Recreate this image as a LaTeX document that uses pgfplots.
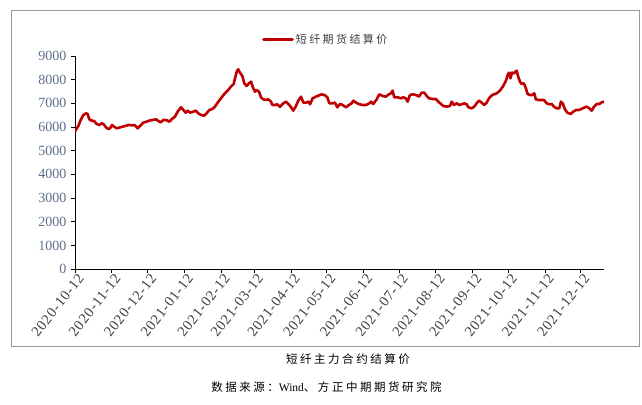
\documentclass[border=0pt]{standalone}
\usepackage{fontspec}
\setmainfont{Liberation Serif}
\newfontfamily\cjk[LetterSpace=22]{Noto Sans CJK SC}
\newfontfamily\xlabfont[LetterSpace=6]{Liberation Serif}
\usepackage{pgfplots}
\pgfplotsset{compat=1.18}
\definecolor{lred}{HTML}{C00000}
\definecolor{ylab}{HTML}{5F6F8A}
\definecolor{xlab}{HTML}{404040}
\begin{document}
\begin{tikzpicture}[x=1bp,y=1bp]
\path[use as bounding box] (0,0) rectangle (642,404);
\fill[white] (0,0) rectangle (642,404);
\draw[color=black!40, line width=0.9bp] (11,58) rectangle (639,394);
\begin{axis}[
  at={(75bp,134.8bp)}, anchor=south west,
  scale only axis, width=529bp, height=213.3bp,
  xmin=0, xmax=445.7, ymin=0, ymax=9000,
  axis x line=bottom, axis y line=left,
  axis line style={-, black, line width=0.8bp},
  tick align=outside, major tick length=4bp,
  tick style={black, line width=0.7bp},
  xtick={0,31,61,92,123,151,182,212,243,273,304,335,365,396,426},
  xticklabels={2020-10-12,2020-11-12,2020-12-12,2021-01-12,2021-02-12,2021-03-12,2021-04-12,2021-05-12,2021-06-12,2021-07-12,2021-08-12,2021-09-12,2021-10-12,2021-11-12,2021-12-12},
  ytick={0,1000,2000,3000,4000,5000,6000,7000,8000,9000},
  /pgf/number format/1000 sep={},
  /pgf/number format/assume math mode=true,
  x tick label style={rotate=52, anchor=north east, font=\xlabfont\fontsize{14.5bp}{16bp}\selectfont, text=xlab, inner sep=1bp, xshift=3bp},
  y tick label style={font=\fontsize{14bp}{16bp}\selectfont, text=ylab, inner sep=2bp, xshift=-2.5bp},
  legend style={at={(0.474,1.078)}, anchor=center, draw=none, fill=none,
    font=\cjk\fontsize{11bp}{13bp}\selectfont, text=xlab},
  legend image code/.code={\draw[#1, line width=2.8bp] (0bp,0bp) -- (29bp,0bp);},
]
\addplot[lred, line width=2.6bp, line join=round, line cap=round] coordinates {
(0,5820)(2.8,6044)(4.8,6297)(7,6508)(9.3,6578)(10.7,6550)(12,6325)(14,6269)(16,6255)(18.3,6128)(20.5,6086)(22.5,6156)(23.9,6128)(26.1,5987)(28,5917)(29.5,5945)(31.2,6086)(32.9,6015)(35.1,5945)(37.3,5973)(40.2,6015)(42.4,6044)(44.9,6086)(47.8,6072)(50.5,6072)(52.8,5945)(54.8,6044)(57.5,6184)(60.4,6226)(62.6,6269)(65.4,6297)(68.2,6325)(70.2,6255)(72.2,6198)(74.4,6297)(76.7,6297)(79.5,6226)(81.4,6325)(84.2,6437)(86.5,6648)(89.3,6831)
(91.3,6719)(93.2,6606)(94.9,6691)(96.9,6606)(99.7,6648)(101.7,6691)(103.9,6578)(106.1,6508)(108.9,6480)(110.9,6578)(113.2,6719)(115.7,6761)(117.9,6859)(120.2,7028)(123,7211)(125.8,7394)(128.6,7534)(131.4,7703)(133.7,7816)(134.8,8055)(136.5,8378)(137.6,8434)(139,8294)(141,8153)(142.6,7844)(144.6,7731)(146.6,7844)(148.3,7914)(150.2,7633)(151.6,7492)(153,7563)(155,7492)(156.7,7253)(158.6,7169)(160.9,7141)(162.8,7169)(165.1,7070)(166.2,6930)(168.5,6930)(170.4,6958)(172.7,6850)
(175,6980)(177.8,7070)(179.7,6972)(181.7,6859)(183.9,6691)(186.2,6887)(188.1,7113)(190.4,7281)(192.4,7028)(194.6,7028)(196.6,7070)(198,6958)(200.2,7211)(203,7281)(205.8,7338)(207.8,7380)(210.6,7338)(212.6,7253)(214.3,7000)(217.1,7000)(219,7028)(221,6831)(223.3,6972)(225.5,6930)(228.3,6831)(230.8,6930)(233.1,7000)(234.5,7113)(236.7,7028)(239.6,6958)(242.4,6930)(245.2,6930)(248,7000)(249.4,7070)(251.3,6972)(254.2,7169)(256.4,7380)(259.2,7309)(262,7281)
(264.4,7380)(266.2,7422)(267.6,7534)(269,7253)(271.9,7253)(274.6,7211)(276.6,7253)(278.6,7211)(280.3,7070)(282.2,7352)(285,7380)(287.9,7338)(289.8,7281)(292.1,7450)(294.3,7450)(296.3,7309)(298.2,7211)(301,7183)(303.9,7183)(306.1,7070)(308.3,6972)(310.3,6887)(313.1,6859)(315.9,6887)(317.4,7070)(319.3,6930)(321.6,7000)(323.5,6930)(325.8,6958)(328,7000)(330,6958)(331.4,6831)(334.2,6789)(336.4,6859)(338.4,7000)(340.4,7113)(342.6,7028)(344.8,6930)(346.8,7028)(348.8,7211)(351.6,7352)
(355.3,7422)(358,7534)(360.8,7731)(363.1,7956)(364.5,8195)(365.6,8294)(367,8055)(368.1,8294)(369.8,8266)(372.1,8378)(373.4,8125)(374.9,7914)(376.3,7816)(378.2,7844)(379.9,7633)(381.3,7394)(383.3,7352)(385.5,7352)(386.9,7422)(388.3,7169)(390.3,7141)(393.2,7141)(395.1,7141)(397.4,7000)(399.6,6958)(401.6,6972)(403.5,6859)(405.8,6789)(408,6789)(409.4,7070)(410.9,7000)(412.8,6747)(414.7,6606)(417.6,6550)(419.8,6648)(422.1,6719)(424.9,6719)(427.7,6789)(431.1,6859)(433.3,6789)(435.3,6691)(437.3,6859)(439.6,6972)(441.8,6972)(443.8,7042)(445.7,7070)
};
\addlegendentry{短纤期货结算价}
\end{axis}
\node[font=\cjk\fontsize{11.5bp}{13bp}\selectfont, text=black] at (348,45) {短纤主力合约结算价};
\node[font=\fontsize{11.5bp}{13bp}\selectfont, text=black] at (326.5,17) {{\cjk 数据来源：}Wind{\cjk 、方正中期期货研究院}};
\end{tikzpicture}
\end{document}
